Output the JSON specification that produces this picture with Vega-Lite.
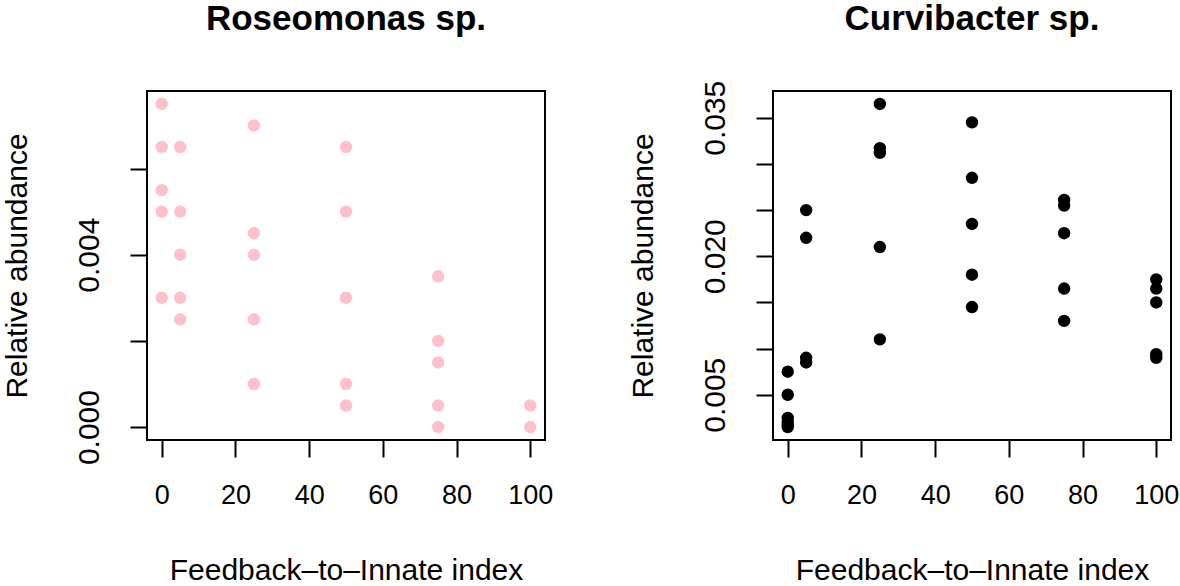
{
  "$schema": "https://vega.github.io/schema/vega-lite/v6.json",
  "autosize": {"type": "pad"},
  "padding": {"left": 0, "top": 1, "right": 0, "bottom": 0},
  "background": "white",
  "datasets": {
    "rose": [
      {"index": 0, "abundance": 0.0075}, {"index": 0, "abundance": 0.0065}, {"index": 0, "abundance": 0.0055}, {"index": 0, "abundance": 0.005}, {"index": 0, "abundance": 0.003},
      {"index": 5, "abundance": 0.0065}, {"index": 5, "abundance": 0.005}, {"index": 5, "abundance": 0.004}, {"index": 5, "abundance": 0.003}, {"index": 5, "abundance": 0.0025},
      {"index": 25, "abundance": 0.007}, {"index": 25, "abundance": 0.0045}, {"index": 25, "abundance": 0.004}, {"index": 25, "abundance": 0.0025}, {"index": 25, "abundance": 0.001},
      {"index": 50, "abundance": 0.0065}, {"index": 50, "abundance": 0.005}, {"index": 50, "abundance": 0.003}, {"index": 50, "abundance": 0.001}, {"index": 50, "abundance": 0.0005},
      {"index": 75, "abundance": 0.0035}, {"index": 75, "abundance": 0.002}, {"index": 75, "abundance": 0.0015}, {"index": 75, "abundance": 0.0005}, {"index": 75, "abundance": 0.0},
      {"index": 100, "abundance": 0.0005}, {"index": 100, "abundance": 0.0}
    ],
    "curvi": [
      {"index": 0, "abundance": 0.0075}, {"index": 0, "abundance": 0.005}, {"index": 0, "abundance": 0.0025}, {"index": 0, "abundance": 0.0021}, {"index": 0, "abundance": 0.0018}, {"index": 0, "abundance": 0.0015},
      {"index": 5, "abundance": 0.025}, {"index": 5, "abundance": 0.022}, {"index": 5, "abundance": 0.009}, {"index": 5, "abundance": 0.0085},
      {"index": 25, "abundance": 0.0365}, {"index": 25, "abundance": 0.0317}, {"index": 25, "abundance": 0.0312}, {"index": 25, "abundance": 0.021}, {"index": 25, "abundance": 0.011},
      {"index": 50, "abundance": 0.0345}, {"index": 50, "abundance": 0.0285}, {"index": 50, "abundance": 0.0235}, {"index": 50, "abundance": 0.018}, {"index": 50, "abundance": 0.0145},
      {"index": 75, "abundance": 0.0261}, {"index": 75, "abundance": 0.0255}, {"index": 75, "abundance": 0.0225}, {"index": 75, "abundance": 0.0165}, {"index": 75, "abundance": 0.013},
      {"index": 100, "abundance": 0.0175}, {"index": 100, "abundance": 0.0165}, {"index": 100, "abundance": 0.015}, {"index": 100, "abundance": 0.0094}, {"index": 100, "abundance": 0.009}
    ]
  },
  "config": {
    "font": "Liberation Sans",
    "view": {"stroke": "black", "strokeWidth": 2},
    "axis": {
      "domain": false, "grid": false,
      "tickColor": "black", "tickWidth": 2, "tickSize": 17,
      "labelColor": "black", "titleColor": "black",
      "labelFont": "Liberation Sans", "titleFont": "Liberation Sans",
      "titleFontSize": 30, "titleFontWeight": "normal",
      "labelFlush": false, "labelOverlap": false
    },
    "axisX": {"labelFontSize": 27, "labelAngle": 0, "labelAlign": "center", "labelBaseline": "alphabetic", "labelPadding": 46, "titleX": 199, "titleY": 139, "titleAlign": "center", "titleBaseline": "alphabetic", "titleAngle": 0},
    "axisY": {"labelFontSize": 30, "labelAngle": -90, "labelAlign": "center", "labelBaseline": "alphabetic", "labelPadding": 32, "titleX": -121, "titleY": 174.5, "titleAlign": "center", "titleBaseline": "alphabetic", "titleAngle": -90}
  },
  "spacing": 228,
  "bounds": "flush",
  "hconcat": [
    {
      "width": 398, "height": 349,
      "title": {"text": "Roseomonas sp.", "fontSize": 35, "fontWeight": "bold", "font": "Liberation Sans", "frame": "group", "anchor": "middle", "baseline": "alphabetic", "offset": 26, "color": "black"},
      "data": {"name": "rose"},
      "mark": {"type": "circle", "size": 154, "opacity": 1, "color": "#FFC0CB"},
      "encoding": {
        "x": {"field": "index", "type": "quantitative", "scale": {"domain": [-4, 104], "nice": false, "zero": false},
              "axis": {"values": [0, 20, 40, 60, 80, 100], "title": "Feedback–to–Innate index"}},
        "y": {"field": "abundance", "type": "quantitative", "scale": {"domain": [-0.0003, 0.0078], "nice": false, "zero": false},
              "axis": {"values": [0, 0.002, 0.004, 0.006], "title": "Relative abundance",
                       "labelExpr": "(abs(datum.value) < 1e-9 || abs(datum.value - 0.004) < 1e-9) ? format(datum.value, '.3f') : ''"}}
      }
    },
    {
      "width": 398, "height": 349,
      "title": {"text": "Curvibacter sp.", "fontSize": 35, "fontWeight": "bold", "font": "Liberation Sans", "frame": "group", "anchor": "middle", "baseline": "alphabetic", "offset": 15, "color": "black"},
      "data": {"name": "curvi"},
      "mark": {"type": "circle", "size": 154, "opacity": 1, "color": "black"},
      "encoding": {
        "x": {"field": "index", "type": "quantitative", "scale": {"domain": [-4, 104], "nice": false, "zero": false},
              "axis": {"values": [0, 20, 40, 60, 80, 100], "title": "Feedback–to–Innate index"}},
        "y": {"field": "abundance", "type": "quantitative", "scale": {"domain": [0.0001, 0.0379], "nice": false, "zero": false},
              "axis": {"values": [0.005, 0.01, 0.015, 0.02, 0.025, 0.03, 0.035], "title": "Relative abundance",
                       "labelExpr": "(abs(datum.value - 0.005) < 1e-9 || abs(datum.value - 0.02) < 1e-9 || abs(datum.value - 0.035) < 1e-9) ? format(datum.value, '.3f') : ''"}}
      }
    }
  ]
}
